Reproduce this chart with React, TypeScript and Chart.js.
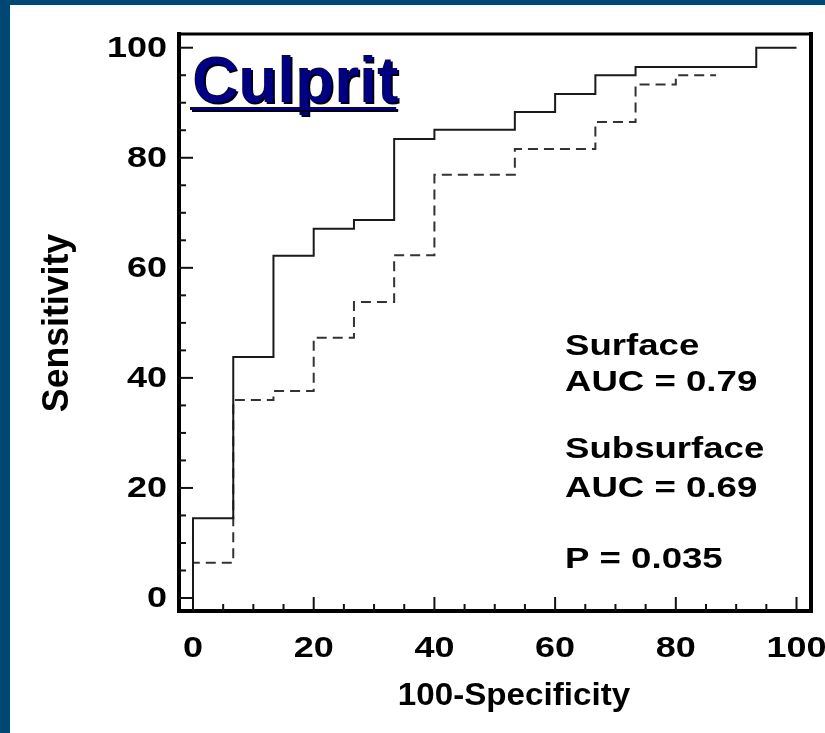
import React, { useEffect, useRef } from "react";
import { Chart, registerables } from "chart.js";

Chart.register(...registerables);

// ---- data ----
const surfaceX = [0, 0, 6.67, 13.33, 20, 26.67, 33.33, 40, 53.33, 60, 66.67, 73.33, 93.33, 100];
const surfaceY = [0, 14.5, 43.8, 62.2, 67.1, 68.7, 83.4, 85.1, 88.3, 91.6, 95.0, 96.5, 100, 100];
const subsurfaceX = [0, 0, 6.67, 13.33, 20, 26.67, 33.33, 40, 53.33, 66.67, 73.33, 80, 86.67];
const subsurfaceY = [0, 6.4, 36.0, 37.6, 47.3, 53.8, 62.3, 76.9, 81.6, 86.5, 93.3, 95.0, 95.0];
const xTickLabels = [0, 20, 40, 60, 80, 100];
const yTickLabels = [0, 20, 40, 60, 80, 100];
const minorStep = 5;
const titleText = "Culprit";
const xAxisTitle = "100-Specificity";
const yAxisTitle = "Sensitivity";
const noteLines = ["Surface", "AUC = 0.79", "Subsurface", "AUC = 0.69", "P = 0.035"];

const FONT = "'Liberation Sans', Arial, Helvetica, sans-serif";

function drawText(
  ctx: CanvasRenderingContext2D,
  s: string,
  x: number,
  y: number,
  font: string,
  align: CanvasTextAlign,
  baseline: CanvasTextBaseline,
  sx: number,
  sy: number,
  color: string,
  rot = 0
) {
  ctx.save();
  ctx.translate(x, y);
  if (rot) ctx.rotate(rot);
  ctx.scale(sx, sy);
  ctx.font = font;
  ctx.textAlign = align;
  ctx.textBaseline = baseline;
  ctx.fillStyle = color;
  ctx.fillText(s, 0, 0);
  ctx.restore();
}

const decorPlugin = {
  id: "decor",
  beforeDraw(chart: any) {
    const ctx: CanvasRenderingContext2D = chart.ctx;
    const W = chart.width;
    const H = chart.height;
    ctx.save();
    ctx.fillStyle = "#ffffff";
    ctx.fillRect(0, 0, W, H);
    ctx.fillStyle = "#004873";
    ctx.fillRect(0, 0, W, 5);
    ctx.fillRect(0, 0, 10, H);
    ctx.restore();
  },
  afterDraw(chart: any) {
    const ctx: CanvasRenderingContext2D = chart.ctx;
    const a = chart.chartArea;
    const xs = chart.scales.x;
    const ys = chart.scales.y;
    ctx.save();

    // frame
    ctx.strokeStyle = "#000";
    ctx.lineCap = "square";
    ctx.lineWidth = 3;
    ctx.beginPath();
    ctx.moveTo(a.left, a.top);
    ctx.lineTo(a.right, a.top);
    ctx.stroke();
    ctx.lineWidth = 4;
    ctx.beginPath();
    ctx.moveTo(a.right, a.top);
    ctx.lineTo(a.right, a.bottom);
    ctx.stroke();
    ctx.beginPath();
    ctx.moveTo(a.left, a.top);
    ctx.lineTo(a.left, a.bottom);
    ctx.lineTo(a.right, a.bottom);
    ctx.stroke();

    // inward ticks
    ctx.lineCap = "butt";
    ctx.lineWidth = 2;
    ctx.strokeStyle = "#111";
    const majorEvery = 20;
    for (let v = 0; v <= 100; v += minorStep) {
      const major = v % majorEvery === 0;
      const py = ys.getPixelForValue(v);
      ctx.beginPath();
      ctx.moveTo(a.left, py);
      ctx.lineTo(a.left + (major ? 14 : 7), py);
      ctx.stroke();
      const px = xs.getPixelForValue(v);
      ctx.beginPath();
      ctx.moveTo(px, a.bottom);
      ctx.lineTo(px, a.bottom - (major ? 14 : 7));
      ctx.stroke();
    }

    // tick labels
    const tickFont = `bold 30px ${FONT}`;
    yTickLabels.forEach((v) => {
      drawText(ctx, String(v), 167, ys.getPixelForValue(v) + 1, tickFont, "right", "middle", 1.2, 1, "#000");
    });
    xTickLabels.forEach((v) => {
      drawText(ctx, String(v), xs.getPixelForValue(v), 657, tickFont, "center", "alphabetic", 1.2, 1, "#000");
    });

    // axis titles
    drawText(ctx, xAxisTitle, 514, 705, `bold 31px ${FONT}`, "center", "alphabetic", 1.07, 1, "#000");
    drawText(ctx, yAxisTitle, 68, 323, `bold 33px ${FONT}`, "center", "alphabetic", 1.08, 1.12, "#000", -Math.PI / 2);

    // title with shadow and underline
    const tf = `bold 64px ${FONT}`;
    drawText(ctx, titleText, 194, 104, tf, "left", "alphabetic", 1, 1, "#000");
    drawText(ctx, titleText, 192, 102, tf, "left", "alphabetic", 1, 1, "#000080");
    ctx.font = tf;
    const tw = ctx.measureText(titleText).width;
    ctx.fillStyle = "#000";
    ctx.fillRect(192, 109, tw, 3);
    ctx.fillStyle = "#000080";
    ctx.fillRect(190, 107, tw, 3);

    // notes
    const baselines = [355, 391, 458, 497, 568];
    const nf = `bold 30px ${FONT}`;
    noteLines.forEach((s, i) => {
      drawText(ctx, s, 565, baselines[i], nf, "left", "alphabetic", 1.22, 1, "#000");
    });

    ctx.restore();
  },
};

export default function App() {
  const ref = useRef<HTMLCanvasElement | null>(null);
  useEffect(() => {
    if (!ref.current) return;
    const chart = new Chart(ref.current, {
      type: "line",
      data: {
        datasets: [
          {
            label: "Surface",
            data: surfaceX.map((x, i) => ({ x, y: surfaceY[i] })),
            borderColor: "#1a1a1a",
            borderWidth: 2,
            pointRadius: 0,
            stepped: "before",
            fill: false,
          },
          {
            label: "Subsurface",
            data: subsurfaceX.map((x, i) => ({ x, y: subsurfaceY[i] })),
            borderColor: "#333333",
            borderWidth: 2,
            borderDash: [10, 6],
            pointRadius: 0,
            stepped: "before",
            fill: false,
          },
        ],
      },
      options: {
        responsive: false,
        animation: false,
        events: [],
        layout: { padding: { left: 179, top: 34, right: 14, bottom: 122 } },
        plugins: { legend: { display: false }, tooltip: { enabled: false } },
        scales: {
          x: { type: "linear", min: -2.32, max: 102.4, display: false },
          y: { type: "linear", min: -2.36, max: 102.49, display: false },
        },
      },
      plugins: [decorPlugin],
    } as any);
    return () => chart.destroy();
  }, []);
  return (
    <div style={{ position: "fixed", left: 0, top: 0, width: 825, height: 733 }}>
      <canvas ref={ref} width={825} height={733} style={{ display: "block" }} />
    </div>
  );
}
